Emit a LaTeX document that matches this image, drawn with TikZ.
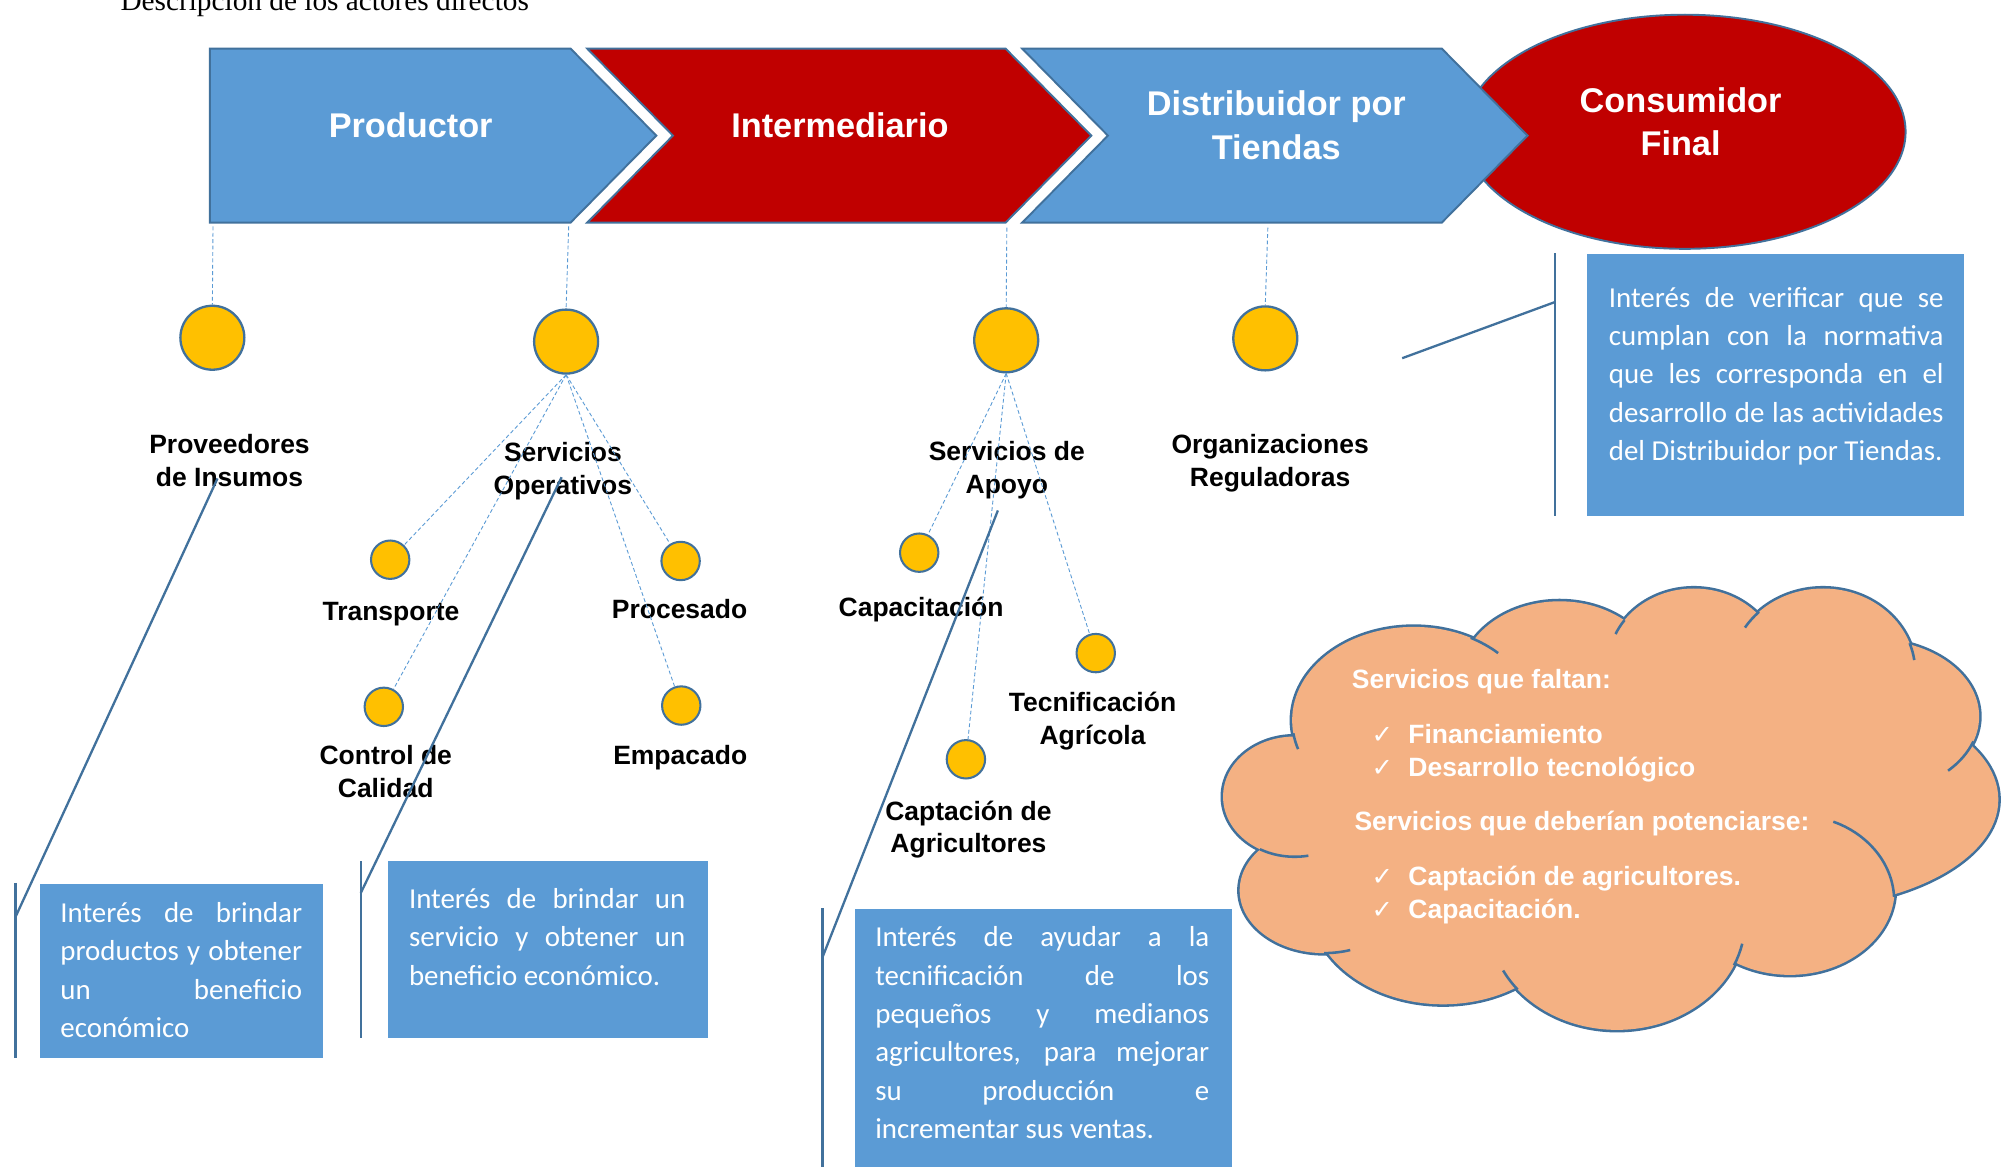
\documentclass[tikz,border=0pt]{standalone}
\usepackage{fontspec}
\setmainfont{Liberation Sans}
\newfontfamily\arialf{Liberation Sans}
\newfontfamily\calibf{Carlito}
\newfontfamily\timesf{Liberation Serif}
\newfontfamily\dejavuf{DejaVu Sans}
\usetikzlibrary{shapes.geometric}
\definecolor{cblue}{HTML}{5B9BD5}
\definecolor{cline}{HTML}{41719C}
\definecolor{cred}{HTML}{C00000}
\definecolor{cyel}{HTML}{FFC000}
\definecolor{cpeach}{HTML}{F4B183}
\newcommand{\twol}[3]{\vtop{\baselineskip=#1\lineskiplimit=-100pt\lineskip=0pt\halign{\hfil##\hfil\cr#2\cr#3\cr}}}
\newcommand{\jl}[2]{\hbox{\makebox[#1][s]{#2}}}
\newcommand{\lastl}[1]{\hbox{#1}}
\newcommand{\innerarc}[6]{\draw[cline, line width=2] ({#1+#3*cos(#5)},{#2+#4*sin(#5)}) arc[start angle=#5, end angle=#6, x radius=#3, y radius=#4];}
\tikzset{
  chev/.style={fill=cblue, draw=cline, line width=1.5, line join=miter},
  chevred/.style={fill=cred, draw=cline, line width=1.5, line join=miter},
  chevtxt/.style={text=white, font=\arialf\bfseries\fontsize{26.8}{34}\selectfont, inner sep=0, anchor=base},
  bigdot/.style={circle, fill=cyel, draw=cline, line width=1.8, minimum size=50, inner sep=0},
  smalldot/.style={circle, fill=cyel, draw=cline, line width=1.6, minimum size=30, inner sep=0},
  lbl/.style={font=\arialf\bfseries\fontsize{20.7}{25.6}\selectfont, inner sep=0, anchor=base},
  dline/.style={draw=cblue, line width=0.7, dash pattern=on 3pt off 2pt},
  callout/.style={draw=cline, line width=1.8},
  infobox/.style={fill=cblue, inner sep=0, anchor=north west},
  boxtxt/.style={text=white, font=\calibf\fontsize{22.6}{30}\selectfont, inner sep=0, anchor=base west},
  cloudtxt/.style={text=white, font=\arialf\bfseries\fontsize{20.7}{25}\selectfont, inner sep=0, anchor=base west},
  chk/.style={text=white, font=\dejavuf\fontsize{20}{24}\selectfont, inner sep=0, anchor=base west},
}
\begin{document}
\begin{tikzpicture}[x=1pt, y=-1pt]
\useasboundingbox (0,0) rectangle (1568,912);
\fill[white] (0,0) rectangle (1568,912);

% title
\node[font=\timesf\fontsize{22.9}{28}\selectfont, inner sep=0, anchor=base west] (title) at (94,8) {Descripción de los actores directos};

% consumidor ellipse
\node[ellipse, fill=cred, draw=cline, line width=1.5, minimum width=345, minimum height=183, inner sep=0] (consE) at (1317,103) {};

% chevrons
\draw[chev] (164,38) -- (446,38) -- (513,106) -- (446,174) -- (164,174) -- cycle;
\draw[chevred] (459,38) -- (786,38) -- (853,106) -- (786,174) -- (459,174) -- (526,106) -- cycle;
\draw[chev] (799,38) -- (1127,38) -- (1194,106) -- (1127,174) -- (799,174) -- (866,106) -- cycle;

\node[chevtxt] (prod) at (321,107.5) {Productor};
\node[chevtxt] (inter) at (656.5,107.5) {Intermediario};
\node[chevtxt] (dist) at (997.6,90.6) {\twol{34pt}{Distribuidor por}{Tiendas}};
\node[chevtxt] (cons) at (1313.6,88) {\twol{33.8pt}{Consumidor}{Final}};

% labels
\node[lbl] (lprov) at (179.4,354.3) {\twol{25.7pt}{Proveedores}{de Insumos}};
\node[lbl] (lsop) at (440,360.8) {\twol{25.7pt}{Servicios}{Operativos}};
\node[lbl] (lsap) at (787,359.8) {\twol{25.7pt}{Servicios de}{Apoyo}};
\node[lbl] (lorg) at (992.8,354.3) {\twol{25.7pt}{Organizaciones}{Reguladoras}};
\node[lbl] (ltra) at (305.6,484.8) {Transporte};
\node[lbl] (lpro) at (531.2,483.3) {Procesado};
\node[lbl] (lcon) at (301.5,597.8) {\twol{25.7pt}{Control de}{Calidad}};
\node[lbl] (lemp) at (531.7,597.8) {Empacado};
\node[lbl] (lcap) at (720,481.8) {Capacitación};
\node[lbl] (ltec) at (854,556.5) {\twol{25.7pt}{Tecnificación}{Agrícola}};
\node[lbl] (lcag) at (757,641) {\twol{25.7pt}{Captación de}{Agricultores}};

% circles
\node[bigdot] (prov) at (166,264) {};
\node[bigdot] (sop) at (442.5,267) {};
\node[bigdot] (sap) at (786.5,266) {};
\node[bigdot] (org) at (989,264.5) {};
\node[smalldot] (tra) at (305,437.5) {};
\node[smalldot] (pro) at (532,438.5) {};
\node[smalldot] (con) at (300,552.5) {};
\node[smalldot] (emp) at (532.5,551.5) {};
\node[smalldot] (cap) at (718.5,432) {};
\node[smalldot] (tec) at (856.5,510.5) {};
\node[smalldot] (cag) at (755,593.5) {};

% dashed connectors
\coordinate (dprod) at (166.5,177);
\coordinate (dinter) at (444.5,177);
\coordinate (dinter2) at (787,178);
\coordinate (ddist) at (991,178);
\draw[dline] (dprod) -- (prov.north);
\draw[dline] (dinter) -- (sop.north);
\draw[dline] (dinter2) -- (sap.north);
\draw[dline] (ddist) -- (org.north);
\draw[dline] (sop.south) -- (tra);
\draw[dline] (sop.south) -- (con);
\draw[dline] (sop.south) -- (pro);
\draw[dline] (sop.south) -- (emp);
\draw[dline] (sap.south) -- (cap);
\draw[dline] (sap.south) -- (cag);
\draw[dline] (sap.south) -- (tec);

% info boxes
\node[infobox, minimum width=221, minimum height=136] (box1) at (31,691) {};
\node[infobox, minimum width=250, minimum height=138] (box2) at (303,673) {};
\node[infobox, minimum width=295, minimum height=210] (box3) at (668,710) {};
\node[infobox, minimum width=295, minimum height=205] (box4) at (1240,198) {};

\node[boxtxt] (t1) at (47,721) {\vtop{\baselineskip=30pt
  \jl{189pt}{Interés de brindar}
  \jl{189pt}{productos y obtener}
  \jl{189pt}{un beneficio}
  \lastl{económico}}};
\node[boxtxt] (t2) at (319.5,710) {\vtop{\baselineskip=30pt
  \jl{216pt}{Interés de brindar un}
  \jl{216pt}{servicio y obtener un}
  \lastl{beneficio económico.}}};
\node[boxtxt] (t3) at (684,740) {\vtop{\baselineskip=30pt
  \jl{261pt}{Interés de ayudar a la}
  \jl{261pt}{tecnificación de los}
  \jl{261pt}{pequeños y medianos}
  \jl{261pt}{agricultores, para mejorar}
  \jl{261pt}{su producción e}
  \lastl{incrementar sus ventas.}}};
\node[boxtxt] (t4) at (1257.4,240) {\vtop{\baselineskip=30pt
  \jl{261.6pt}{Interés de verificar que se}
  \jl{261.6pt}{cumplan con la normativa}
  \jl{261.6pt}{que les corresponda en el}
  \jl{261.6pt}{desarrollo de las actividades}
  \lastl{del Distribuidor por Tiendas.}}};

% callout lines
\coordinate (c1s) at (170,374); \coordinate (c1e) at (12,717);
\coordinate (c1t) at (12,690); \coordinate (c1b) at (12,827);
\coordinate (c2s) at (439,373); \coordinate (c2e) at (282,698);
\coordinate (c2t) at (282,673); \coordinate (c2b) at (282,811);
\coordinate (c3s) at (780,399); \coordinate (c3e) at (643,748);
\coordinate (c3t) at (643,710); \coordinate (c3b) at (643,915);
\coordinate (c4s) at (1096,280); \coordinate (c4e) at (1215.7,236);
\coordinate (c4t) at (1215.7,198); \coordinate (c4b) at (1215.7,403);
\draw[callout] (c1s) -- (c1e); \draw[callout] (c1t) -- (c1b);
\draw[callout] (c2s) -- (c2e); \draw[callout] (c2t) -- (c2b);
\draw[callout] (c3s) -- (c3e); \draw[callout] (c3t) -- (c3b);
\draw[callout] (c4s) -- (c4e); \draw[callout] (c4t) -- (c4b);

% cloud (union of puffs)
\def\cloudlist{1012/622.7/56/47, 1105/563/95/73, 1219/532/78/62, 1324/520/67/60, 1425/525/72/65, 1464/560/83/60, 1402/625/160/85, 1399/695/82/67, 1264/720/100/85, 1128/705/104/80, 1035/696/66/49}
\foreach \cx/\cy/\rx/\ry in \cloudlist {\draw[cline, line width=4] (\cx,\cy) ellipse [x radius=\rx, y radius=\ry];}
\foreach \cx/\cy/\rx/\ry in \cloudlist {\fill[cpeach] (\cx,\cy) ellipse [x radius=\rx, y radius=\ry];}
\fill[cpeach] (1012,622.7) -- (1105,563) -- (1219,532) -- (1324,520) -- (1425,525) -- (1464,560) -- (1402,625) -- (1399,695) -- (1264,720) -- (1128,705) -- (1035,696) -- cycle;
\innerarc{1105}{563}{95}{73}{162}{172}
\innerarc{1105}{563}{95}{73}{298}{314}
\innerarc{1324}{520}{67}{60}{204}{216}
\innerarc{1425}{525}{72}{65}{212}{226}
\innerarc{1425}{525}{72}{65}{340}{352}
\innerarc{1464}{560}{83}{60}{19}{45}
\draw[cline, line width=2] (1433,642.3) .. controls (1458,651) and (1479,673) .. (1480.5,701);
\innerarc{1264}{720}{100}{85}{12}{24}
\innerarc{1264}{720}{100}{85}{141}{153}
\innerarc{1035}{696}{66}{49}{72}{90}
\innerarc{1012}{622.7}{56}{47}{79}{119}

\node[cloudtxt] (cl1) at (1056.5,538) {Servicios que faltan:};
\node[chk] (k1) at (1072,581) {✓};
\node[cloudtxt] (cl2) at (1100.7,581) {Financiamiento};
\node[chk] (k2) at (1072,607) {✓};
\node[cloudtxt] (cl3) at (1100.7,607) {Desarrollo tecnológico};
\node[cloudtxt] (cl4) at (1058.6,648.8) {Servicios que deberían potenciarse:};
\node[chk] (k3) at (1072,691.8) {✓};
\node[cloudtxt] (cl5) at (1100.7,691.8) {Captación de agricultores.};
\node[chk] (k4) at (1072,718) {✓};
\node[cloudtxt] (cl6) at (1100.7,718) {Capacitación.};
\end{tikzpicture}
\end{document}
